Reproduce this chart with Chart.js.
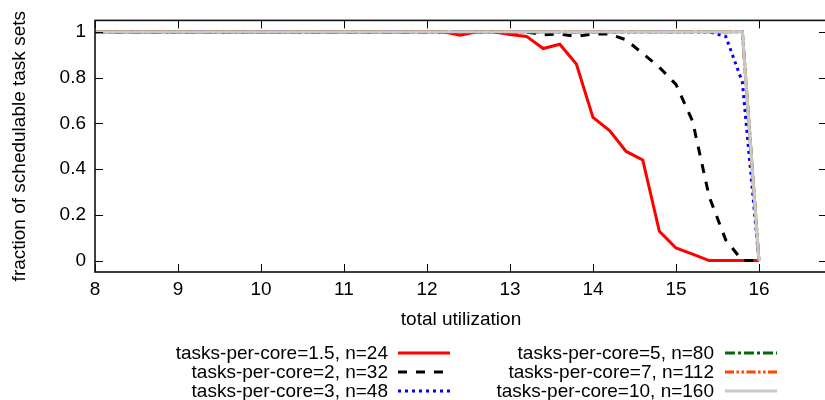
<!DOCTYPE html>
<html><head><meta charset="utf-8">
<script src="https://cdn.jsdelivr.net/npm/chart.js@4.4.1/dist/chart.umd.min.js"></script>
<style>
html,body{margin:0;padding:0;background:#fff;overflow:hidden;width:825px;height:400px;position:relative;}
#wrap{position:absolute;left:0;top:0;width:860px;height:400px;}
.leg{position:absolute;font-family:"Liberation Sans",Arial,sans-serif;font-size:19px;line-height:19px;height:19px;color:#000;white-space:nowrap;text-align:right;}
svg.s{position:absolute;overflow:visible;}
</style></head><body>
<div id="wrap"><canvas id="c" width="860" height="400"></canvas></div>
<script>
// ---- data ----
const utilization = [8.0,8.2,8.4,8.6,8.8,9.0,9.2,9.4,9.6,9.8,10.0,10.2,10.4,10.6,10.8,11.0,11.2,11.4,11.6,11.8,12.0,12.2,12.4,12.6,12.8,13.0,13.2,13.4,13.6,13.8,14.0,14.2,14.4,14.6,14.8,15.0,15.2,15.4,15.6,15.8,16.0];
const tpc1_5 = [1,1,1,1,1,1,1,1,1,1,1,1,1,1,1,1,1,1,1,1,1,1,0.985,1,1,0.988,0.98,0.927,0.946,0.859,0.626,0.568,0.477,0.44,0.128,0.055,0.028,0,0,0,0];
const tpc2   = [1,1,1,1,1,1,1,1,1,1,1,1,1,1,1,1,1,1,1,1,1,1,1,1,1,1,1,0.987,0.99,0.98,0.99,0.99,0.965,0.905,0.845,0.77,0.61,0.28,0.09,0,0];
const tpc3   = [1,1,1,1,1,1,1,1,1,1,1,1,1,1,1,1,1,1,1,1,1,1,1,1,1,1,1,1,1,1,1,1,1,1,1,1,1,1,0.98,0.78,0];
const tpc5   = [1,1,1,1,1,1,1,1,1,1,1,1,1,1,1,1,1,1,1,1,1,1,1,1,1,1,1,1,1,1,1,1,1,1,1,1,1,1,1,1,0];
const tpc7   = [1,1,1,1,1,1,1,1,1,1,1,1,1,1,1,1,1,1,1,1,1,1,1,1,1,1,1,1,1,1,1,1,1,1,1,1,1,1,1,1,0];
const tpc10  = [1,1,1,1,1,1,1,1,1,1,1,1,1,1,1,1,1,1,1,1,1,1,1,1,1,1,1,1,1,1,1,1,1,1,1,1,1,1,1,1,0];
const seriesNames = ['tasks-per-core=1.5, n=24','tasks-per-core=2, n=32','tasks-per-core=3, n=48','tasks-per-core=5, n=80','tasks-per-core=7, n=112','tasks-per-core=10, n=160'];
const xTicks = [8,9,10,11,12,13,14,15,16];
const xTickLabels = ['8','9','10','11','12','13','14','15','16'];
const yTicks = [0,0.2,0.4,0.6,0.8,1];
const yTickLabels = ['0','0.2','0.4','0.6','0.8','1'];
const xTitle = 'total utilization';
const yTitle = 'fraction of schedulable task sets';

// ---- styles ----
const allSeries = [tpc1_5,tpc2,tpc3,tpc5,tpc7,tpc10];
const colors = ['#ff0000','#000000','#0000ff','#0a640a','#ff4500','#c8c8c8'];
const dashes = [[],[9,9],[3,4],[10,3,3,3],[9,2.5,2.5,2.5,2.5,2.5],[]];
const FONT = '"Liberation Sans", Arial, sans-serif';

Chart.defaults.font.family = FONT;
Chart.defaults.color = '#000';

const datasets = allSeries.map((s,i)=>({
  label: seriesNames[i],
  data: s.map((v,j)=>({x: utilization[j], y: v})),
  borderColor: colors[i],
  backgroundColor: colors[i],
  borderWidth: 3,
  borderDash: dashes[i],
  borderCapStyle: 'butt',
  borderJoinStyle: 'miter',
  pointRadius: 0,
  tension: 0,
  fill: false,
  order: 6 - i
}));

const frame = {
  id: 'frame',
  afterDatasetsDraw(chart){
    const {ctx, chartArea:a, scales:{x,y}} = chart;
    ctx.save();
    ctx.strokeStyle = '#000';
    ctx.lineWidth = 1;
    ctx.beginPath();
    xTicks.forEach(v=>{
      const px = Math.round(x.getPixelForValue(v)) + 0.5;
      ctx.moveTo(px, a.bottom); ctx.lineTo(px, a.bottom - 8);
      ctx.moveTo(px, a.top); ctx.lineTo(px, a.top + 8);
    });
    yTicks.forEach(v=>{
      const py = Math.round(y.getPixelForValue(v)) + 0.5;
      ctx.moveTo(a.left, py); ctx.lineTo(a.left + 8, py);
      ctx.moveTo(a.right, py); ctx.lineTo(a.right - 8, py);
    });
    ctx.stroke();
    ctx.lineWidth = 1.6;
    ctx.strokeStyle = '#111';
    ctx.strokeRect(a.left, a.top, a.right - a.left, a.bottom - a.top);
    ctx.restore();
  }
};

new Chart(document.getElementById('c'), {
  type: 'line',
  data: { datasets },
  plugins: [frame],
  options: {
    responsive: false,
    animation: false,
    devicePixelRatio: 1,
    layout: { padding: { left: 0, top: 20, right: 33, bottom: 58 } },
    plugins: { legend: { display: false }, tooltip: { enabled: false }, title: { display: false } },
    scales: {
      x: {
        type: 'linear', min: 8, max: 16.82,
        afterBuildTicks: s => { s.ticks = xTicks.map(v=>({value: v})); },
        afterFit: s => { s.height = 70; },
        ticks: { callback: (v,i) => xTickLabels[i], font: { size: 19 }, color: '#000', padding: 6, maxRotation: 0, autoSkip: false },
        grid: { display: false, drawTicks: false },
        border: { display: false },
        title: { display: true, text: xTitle, font: { size: 19, lineHeight: 1.2 }, color: '#000', padding: { top: 0, bottom: 10.6 } }
      },
      y: {
        type: 'linear', min: -0.05, max: 1.05,
        afterBuildTicks: s => { s.ticks = yTicks.map(v=>({value: v})); },
        afterFit: s => { s.width = 95; },
        ticks: { callback: (v,i) => yTickLabels[i], font: { size: 19 }, color: '#000', padding: 9, autoSkip: false },
        grid: { display: false, drawTicks: false },
        border: { display: false },
        title: { display: true, text: yTitle, font: { size: 19, lineHeight: 1.2 }, color: '#000', padding: { top: 8.6, bottom: 0 } }
      }
    }
  }
});

// ---- legend (two columns, text right-aligned, sample to the right) ----
const legendCols = [{textRight: 388, sampleLeft: 398}, {textRight: 714, sampleLeft: 725}];
const rowCenters = [353, 372, 391];
const SAMPLE_W = 52;
seriesNames.forEach((name,i)=>{
  const col = legendCols[Math.floor(i/3)];
  const cy = rowCenters[i%3];
  const d = document.createElement('div');
  d.className = 'leg';
  d.style.left = '0px';
  d.style.width = col.textRight + 'px';
  d.style.top = (cy - 10) + 'px';
  d.textContent = name;
  document.body.appendChild(d);
  const ns = 'http://www.w3.org/2000/svg';
  const svg = document.createElementNS(ns,'svg');
  svg.setAttribute('class','s');
  svg.setAttribute('width', SAMPLE_W);
  svg.setAttribute('height', 6);
  svg.style.left = col.sampleLeft + 'px';
  svg.style.top = (cy - 3) + 'px';
  const ln = document.createElementNS(ns,'line');
  ln.setAttribute('x1',0); ln.setAttribute('x2',SAMPLE_W);
  ln.setAttribute('y1',3); ln.setAttribute('y2',3);
  ln.setAttribute('stroke', colors[i]);
  ln.setAttribute('stroke-width', 3);
  if (dashes[i].length) ln.setAttribute('stroke-dasharray', dashes[i].join(' '));
  svg.appendChild(ln);
  document.body.appendChild(svg);
});
</script>
</body></html>
